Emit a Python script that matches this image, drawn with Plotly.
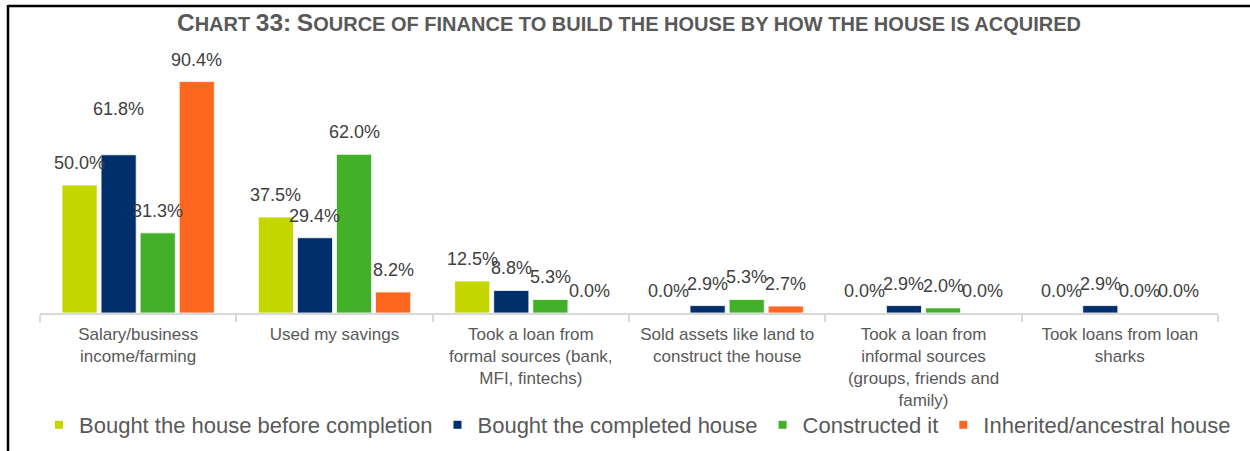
import plotly.graph_objects as go

# Source of finance by how the house was acquired (percent of respondents)
categories = [
    "Salary/business<br>income/farming",
    "Used my savings",
    "Took a loan from<br>formal sources (bank,<br>MFI, fintechs)",
    "Sold assets like land to<br>construct the house",
    "Took a loan from<br>informal sources<br>(groups, friends and<br>family)",
    "Took loans from loan<br>sharks",
]
series_names = [
    "Bought the house before completion",
    "Bought the completed house",
    "Constructed it",
    "Inherited/ancestral house",
]
before_completion = [50.0, 37.5, 12.5, 0.0, 0.0, 0.0]
completed_house = [61.8, 29.4, 8.8, 2.9, 2.9, 2.9]
constructed_it = [31.3, 62.0, 5.3, 5.3, 2.0, 0.0]
inherited_house = [90.4, 8.2, 0.0, 2.7, 0.0, 0.0]

series_values = [before_completion, completed_house, constructed_it, inherited_house]
colors = ["#C4D600", "#002F6C", "#43B02A", "#FF671F"]

TITLE = "Chart 33: Source of finance to build the house by how the house is acquired"

FONT = "Arial, Liberation Sans, sans-serif"
W, H = 1250, 451
ML, MR, MT, MB = 40, 32, 57, 138
PW, PH = W - ML - MR, H - MT - MB

n_series = len(series_values)
slot = 0.199          # distance between bar centres within a group
bar_w = 0.179         # bar width in category units
offsets = [(k - (n_series - 1) / 2) * slot for k in range(n_series)]


def small_caps(text, big=24.5, small=20):
    """Render text in small capitals using sized spans."""
    out = []
    for ch in text:
        if ch.islower():
            out.append(f"<span style='font-size:{small}px'>{ch.upper()}</span>")
        elif ch == " ":
            out.append(f"<span style='font-size:{small}px'> </span>")
        else:
            out.append(f"<span style='font-size:{big}px'>{ch}</span>")
    return "<b>" + "".join(out) + "</b>"


fig = go.Figure()
annotations = []
# one label sits higher to avoid colliding with its neighbour
label_lift = {(1, 0): 24}

for k, (name, vals, col) in enumerate(zip(series_names, series_values, colors)):
    xs = [i + offsets[k] for i in range(len(categories))]
    fig.add_trace(go.Bar(
        x=xs, y=vals, width=bar_w, name=name,
        marker=dict(color=col, line=dict(color="white", width=0.8)),
        showlegend=False, hoverinfo="skip",
    ))
    # legend entry with a small square swatch
    fig.add_trace(go.Scatter(
        x=[None], y=[None], mode="markers", name=name,
        marker=dict(symbol="square", size=8, color=col),
    ))
    for i, v in enumerate(vals):
        annotations.append(dict(
            x=xs[i], y=v, xref="x", yref="y", text=f"{v:.1f}%",
            showarrow=False, yanchor="middle", xanchor="center",
            yshift=22 + label_lift.get((k, i), 0),
            font=dict(family=FONT, size=18, color="#404040"),
        ))


# frame lines along the top and left edges
def px_x(p):
    return (p - ML) / PW


def px_y(p):
    return (H - MB - p) / PH


shapes = [
    dict(type="line", xref="paper", yref="paper",
         x0=px_x(8), x1=px_x(W + 2), y0=px_y(6), y1=px_y(6),
         line=dict(color="black", width=2.5)),
    dict(type="line", xref="paper", yref="paper",
         x0=px_x(8), x1=px_x(8), y0=px_y(5), y1=px_y(H + 2),
         line=dict(color="black", width=2.5)),
]

fig.update_layout(
    width=W, height=H,
    margin=dict(l=ML, r=MR, t=MT, b=MB, pad=0, autoexpand=False),
    paper_bgcolor="white", plot_bgcolor="white",
    barmode="overlay",
    title=dict(
        text=small_caps(TITLE),
        x=0.5, xref="paper", xanchor="center",
        y=1 - 24 / H, yref="container", yanchor="middle",
        font=dict(family=FONT, size=20, color="#595959"),
    ),
    xaxis=dict(
        range=[-0.5, len(categories) - 0.5],
        tickmode="array", tickvals=list(range(len(categories))), ticktext=categories,
        ticks="", showgrid=False, zeroline=False,
        showline=True, linecolor="#D9D9D9", linewidth=1.5,
        tickfont=dict(family=FONT, size=17, color="#595959"),
        ticklabelstandoff=5,
        minor=dict(tick0=-0.5, dtick=1, ticks="outside", ticklen=7,
                   tickcolor="#D9D9D9", tickwidth=1.5, showgrid=False),
        fixedrange=True,
    ),
    yaxis=dict(range=[0, 100], visible=False, fixedrange=True),
    # legend anchored just left of the plot area so it may span one row
    legend=dict(
        orientation="h", xref="paper", x=px_x(39), xanchor="left",
        yref="paper", y=px_y(425), yanchor="middle",
        font=dict(family=FONT, size=22, color="#595959"),
        itemwidth=30, tracegroupgap=0, bgcolor="rgba(0,0,0,0)",
    ),
    annotations=annotations,
    shapes=shapes,
)

fig.write_html("out.html")
